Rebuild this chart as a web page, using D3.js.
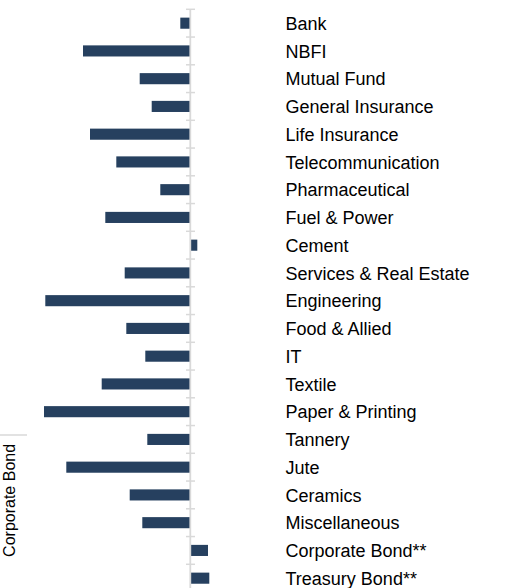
<!DOCTYPE html>
<html><head><meta charset="utf-8">
<script src="https://cdn.jsdelivr.net/npm/d3@7"></script>
<style>html,body{margin:0;padding:0;background:#fff;}svg{display:block;}</style>
</head><body>
<script>
const categories = ["Bank","NBFI","Mutual Fund","General Insurance","Life Insurance","Telecommunication","Pharmaceutical","Fuel & Power","Cement","Services & Real Estate","Engineering","Food & Allied","IT","Textile","Paper & Printing","Tannery","Jute","Ceramics","Miscellaneous","Corporate Bond**","Treasury Bond**"];
const values = [-0.97,-10.7,-5.03,-3.83,-10.0,-7.37,-2.97,-8.47,0.73,-6.53,-14.47,-6.37,-4.47,-8.83,-14.6,-4.27,-12.37,-6.03,-4.77,1.8,1.93];
const groupLabel = "Corporate Bond";

const W = 517, H = 588;
const svg = d3.select("body").append("svg").attr("width", W).attr("height", H);

const y = d3.scaleBand().domain(categories).range([9.3, 9.3 + 27.75 * categories.length])
  .paddingInner(0.6).paddingOuter(0.3);
const x = d3.scaleLinear().domain([-15, 2]).range([40, 210]);

const step = y.step();
const bandStart = c => y(c) - y.paddingOuter() * step;

// bars
svg.append("g").selectAll("rect").data(categories).join("rect")
  .attr("x", (c, i) => x(Math.min(0, values[i])))
  .attr("width", (c, i) => Math.abs(x(values[i]) - x(0)))
  .attr("y", c => y(c))
  .attr("height", y.bandwidth())
  .attr("fill", "#26405f");

// axis line and ticks
const axisG = svg.append("g");
axisG.append("line")
  .attr("x1", x(0) + 0.3).attr("x2", x(0) + 0.3)
  .attr("y1", 9.3).attr("y2", H)
  .attr("stroke", "#d9d9d9").attr("stroke-width", 1.8);
axisG.selectAll("line.tick").data(categories).join("line").attr("class", "tick")
  .attr("x1", x(0) - 4).attr("x2", x(0) + 5)
  .attr("y1", c => bandStart(c)).attr("y2", c => bandStart(c))
  .attr("stroke", "#d9d9d9").attr("stroke-width", 1.5);

// category labels
svg.append("g").selectAll("text").data(categories).join("text")
  .attr("x", 285.5)
  .attr("y", c => y(c) + y.bandwidth() / 2 + 6.6)
  .attr("font-family", "Liberation Sans, Arial, sans-serif")
  .attr("font-size", 18)
  .attr("fill", "#000")
  .text(c => c);

// group header
svg.append("line").attr("x1", 0).attr("x2", 27).attr("y1", 435).attr("y2", 435)
  .attr("stroke", "#d9d9d9").attr("stroke-width", 1.5);
svg.append("text")
  .attr("transform", "translate(14.5,500.4) rotate(-90)")
  .attr("text-anchor", "middle")
  .attr("font-family", "Liberation Sans, Arial, sans-serif")
  .attr("font-size", 16)
  .attr("fill", "#000")
  .text(groupLabel);
</script>
</body></html>
